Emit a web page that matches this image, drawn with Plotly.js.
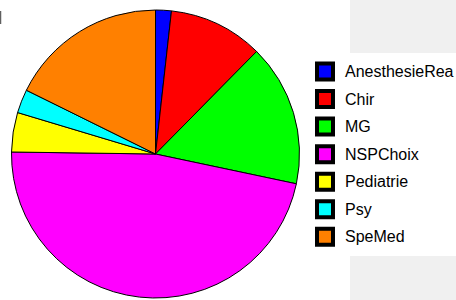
<!DOCTYPE html>
<html>
<head>
<meta charset="utf-8">
<script src="https://cdn.plot.ly/plotly-3.0.1.min.js"></script>
<style>
html,body{margin:0;padding:0;background:#fff;}
#chart{width:456px;height:300px;}
</style>
</head>
<body>
<div id="chart"></div>
<script>
// Data
var categories = ["AnesthesieRea", "Chir", "MG", "NSPChoix", "Pediatrie", "Psy", "SpeMed"];
var counts = [2, 12, 18, 53, 5, 3, 20];
var sliceColors = ["#0000FF", "#FF0000", "#00FF00", "#FF00FF", "#FFFF00", "#00FFFF", "#FF8000"];

var W = 456, H = 300;
function px(x){ return x / W; }
function py(y){ return 1 - y / H; }

var cx = 155.5, cy = 154, r = 144;

var trace = {
  type: "pie",
  labels: categories,
  values: counts,
  sort: false,
  direction: "clockwise",
  rotation: 0,
  textinfo: "none",
  hoverinfo: "label+value",
  marker: { colors: sliceColors, line: { color: "#000000", width: 1 } },
  domain: { x: [px(cx - r), px(cx + r)], y: [py(cy + r), py(cy - r)] },
  showlegend: false
};

var shapes = [
  // grey panels on the right
  { type: "rect", xref: "paper", yref: "paper", x0: px(350), x1: px(456), y0: py(53), y1: py(0),
    fillcolor: "#f0f0f0", line: { width: 0 }, layer: "below" },
  { type: "rect", xref: "paper", yref: "paper", x0: px(350), x1: px(456), y0: py(300), y1: py(256),
    fillcolor: "#f0f0f0", line: { width: 0 }, layer: "below" },
  // small grey mark at left edge
  { type: "line", xref: "paper", yref: "paper", x0: px(0.5), x1: px(0.5), y0: py(11), y1: py(24),
    line: { color: "#606060", width: 1.5 } }
];
var annotations = [];

// Custom legend built from the arrays
var legTop = 71.5, legStep = 27.55;
categories.forEach(function (c, i) {
  var yc = legTop + i * legStep;
  shapes.push({
    type: "rect", xref: "paper", yref: "paper",
    x0: px(317), x1: px(333), y0: py(yc + 8), y1: py(yc - 8),
    fillcolor: sliceColors[i], line: { color: "#000000", width: 4 }
  });
  annotations.push({
    xref: "paper", yref: "paper", x: px(343), y: py(yc), xanchor: "left", yanchor: "middle",
    text: c, showarrow: false,
    font: { family: "Arial", size: 16, color: "#000000" }
  });
});

var layout = {
  width: W, height: H,
  margin: { l: 0, r: 0, t: 0, b: 0, pad: 0 },
  paper_bgcolor: "#ffffff",
  plot_bgcolor: "#ffffff",
  showlegend: false,
  shapes: shapes,
  annotations: annotations
};

Plotly.newPlot("chart", [trace], layout, { displayModeBar: false, staticPlot: true });
</script>
</body>
</html>
